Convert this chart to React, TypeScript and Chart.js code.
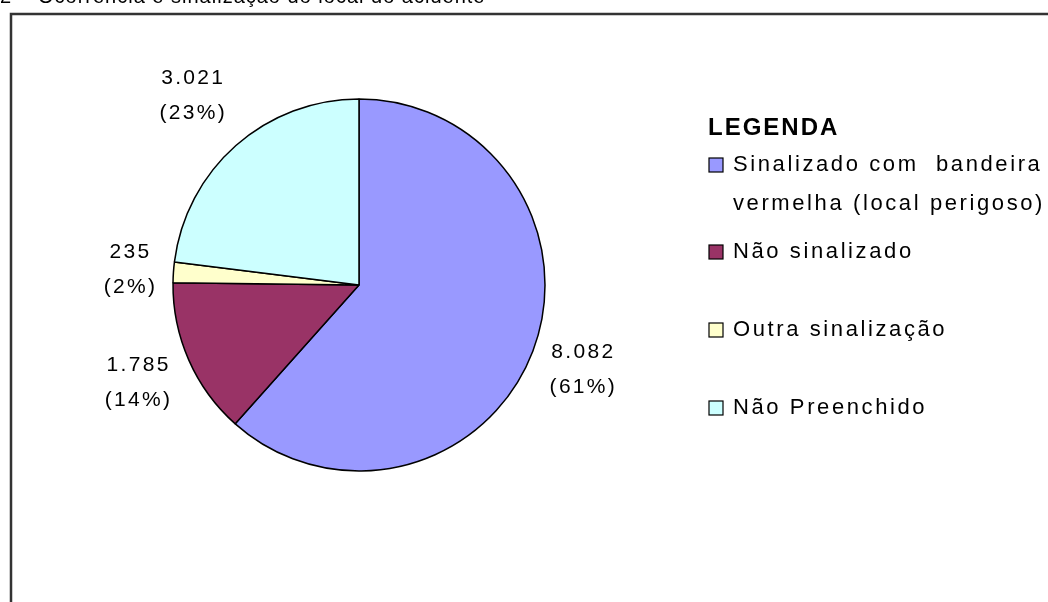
import React, { useEffect, useRef } from "react";
import { Chart, registerables } from "chart.js";

Chart.register(...registerables);

const categories: (string | string[])[] = [
  ["Sinalizado com  bandeira", "vermelha (local perigoso)"],
  "Não sinalizado",
  "Outra sinalização",
  "Não Preenchido",
];
const values = [8082, 1785, 235, 3021];
const percentLabels = ["61%", "14%", "2%", "23%"];
const colors = ["#9999FF", "#993366", "#FFFFCC", "#CCFFFF"];
const legendTitle = "LEGENDA";
const chartNumber = "2";
const chartTitle = "Ocorrência e sinalização do local do acidente";

function fmt(n: number): string {
  return String(n).replace(/\B(?=(\d{3})+(?!\d))/g, ".");
}

const W = 1048;
const H = 602;

const decorPlugin = {
  id: "decor",
  beforeDraw(chart: any) {
    const ctx = chart.ctx as CanvasRenderingContext2D;
    ctx.save();
    ctx.fillStyle = "#ffffff";
    ctx.fillRect(0, 0, chart.width, chart.height);
    // frame
    ctx.strokeStyle = "#333333";
    ctx.lineWidth = 2.5;
    ctx.beginPath();
    ctx.moveTo(11, chart.height + 5);
    ctx.lineTo(11, 14);
    ctx.lineTo(chart.width + 5, 14);
    ctx.stroke();
    // clipped title
    ctx.fillStyle = "#000000";
    ctx.font = "20px 'Liberation Sans', Arial, sans-serif";
    ctx.textBaseline = "alphabetic";
    ctx.textAlign = "left";
    (ctx as any).letterSpacing = "1px";
    ctx.fillText(chartNumber, 0, 3);
    ctx.fillText(chartTitle, 38, 3);
    ctx.restore();
  },
  afterDraw(chart: any, _args: any, opts: any) {
    const ctx = chart.ctx as CanvasRenderingContext2D;
    const meta = chart.getDatasetMeta(0);
    const ds = chart.data.datasets[0];
    ctx.save();
    // value labels
    ctx.fillStyle = "#000000";
    ctx.font = "21px 'Liberation Sans', Arial, sans-serif";
    ctx.textAlign = "center";
    ctx.textBaseline = "middle";
    (ctx as any).letterSpacing = "2.3px";
    meta.data.forEach((arc: any, i: number) => {
      const p = arc.getProps(["x", "y", "startAngle", "endAngle", "outerRadius"], true);
      const mid = (p.startAngle + p.endAngle) / 2;
      const r = p.outerRadius + opts.labelOffsets[i];
      const cx = p.x + Math.cos(mid) * r;
      const cy = p.y + Math.sin(mid) * r;
      const v = ds.data[i] as number;
      ctx.fillText(fmt(v), cx + 1, cy - opts.labelLineGap / 2);
      ctx.fillText("(" + percentLabels[i] + ")", cx + 1, cy + opts.labelLineGap / 2);
    });
    // legend
    const lg = opts.legend;
    ctx.textAlign = "left";
    ctx.textBaseline = "middle";
    ctx.font = "bold 24px 'Liberation Sans', Arial, sans-serif";
    (ctx as any).letterSpacing = "2px";
    ctx.fillText(legendTitle, lg.x, lg.titleY);
    ctx.font = "22px 'Liberation Sans', Arial, sans-serif";
    (ctx as any).letterSpacing = "2.6px";
    const labels = chart.data.labels as (string | string[])[];
    labels.forEach((lab, i) => {
      const y = lg.itemY[i];
      const bg = (ds.backgroundColor as string[])[i];
      ctx.fillStyle = bg;
      ctx.fillRect(lg.x + 1, y - 7, 14, 14);
      ctx.strokeStyle = "#000000";
      ctx.lineWidth = 1.2;
      ctx.strokeRect(lg.x + 1, y - 7, 14, 14);
      ctx.fillStyle = "#000000";
      const lines = Array.isArray(lab) ? lab : [lab];
      lines.forEach((ln, j) => {
        ctx.fillText(ln, lg.x + 25, y + j * lg.lineHeight);
      });
    });
    ctx.restore();
  },
};

export default function App() {
  const ref = useRef<HTMLCanvasElement | null>(null);
  useEffect(() => {
    if (!ref.current) return;
    const chart = new Chart(ref.current, {
      type: "pie",
      data: {
        labels: categories,
        datasets: [
          {
            data: values,
            backgroundColor: colors,
            borderColor: "#000000",
            borderWidth: 1.5,
            hoverOffset: 0,
          },
        ],
      },
      options: {
        responsive: false,
        animation: false,
        events: [],
        layout: {
          padding: { left: 172.25, top: 98.25, right: 502.25, bottom: 130.25 },
        },
        plugins: {
          legend: { display: false },
          tooltip: { enabled: false },
          decor: {
            labelOffsets: [53, 56, 44, 66],
            labelLineGap: 35,
            legend: {
              x: 708,
              titleY: 128,
              itemY: [165, 252, 330, 408],
              lineHeight: 39,
            },
          },
        } as any,
      },
      plugins: [decorPlugin],
    });
    return () => chart.destroy();
  }, []);
  return (
    <div style={{ position: "fixed", left: 0, top: 0, width: W, height: H, background: "#fff" }}>
      <canvas ref={ref} width={W} height={H} style={{ display: "block", width: W, height: H }} />
    </div>
  );
}
